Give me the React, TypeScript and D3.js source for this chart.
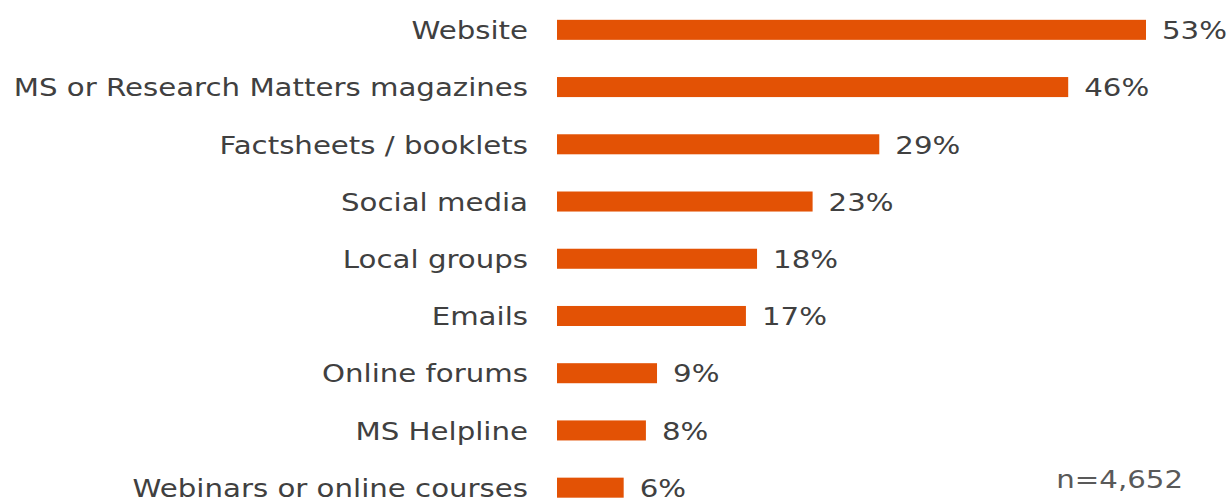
import React from "react";
import * as d3 from "d3";

const categories = [
  "Website",
  "MS or Research Matters magazines",
  "Factsheets / booklets",
  "Social media",
  "Local groups",
  "Emails",
  "Online forums",
  "MS Helpline",
  "Webinars or online courses",
];
const values = [53, 46, 29, 23, 18, 17, 9, 8, 6];
const note = "n=4,652";

const W = 1231;
const H = 500;
const x0 = 557;
const font = "'DejaVu Sans', Verdana, sans-serif";
const FS = 25;
const SX = 1.17;

function T({ x, y, anchor, fill, children }: any) {
  return (
    <text
      transform={`translate(${x},${y}) scale(${SX},1)`}
      dy="0.37em"
      textAnchor={anchor}
      fontFamily={font}
      fontSize={FS}
      fill={fill}
    >
      {children}
    </text>
  );
}

export default function App() {
  const x = d3.scaleLinear().domain([0, 53]).range([x0, 1146]);
  const y = d3
    .scaleBand<string>()
    .domain(categories)
    .range([1.5, 516])
    .paddingInner(0.65)
    .paddingOuter(0.32);
  return (
    <svg width={W} height={H} style={{ position: "absolute", left: 0, top: 0 }}>
      <rect width={W} height={H} fill="#fff" />
      {categories.map((c, i) => {
        const yy = y(c)!;
        const bw = y.bandwidth();
        const cy = yy + bw / 2;
        return (
          <g key={c}>
            <rect x={x(0)} y={yy} width={x(values[i]) - x(0)} height={bw} fill="#E35205" />
            <T x={528} y={cy} anchor="end" fill="#404040">
              {c}
            </T>
            <T x={x(values[i]) + 16} y={cy} anchor="start" fill="#404040">
              {values[i]}%
            </T>
          </g>
        );
      })}
      <T x={1183} y={479} anchor="end" fill="#595959">
        {note}
      </T>
    </svg>
  );
}
